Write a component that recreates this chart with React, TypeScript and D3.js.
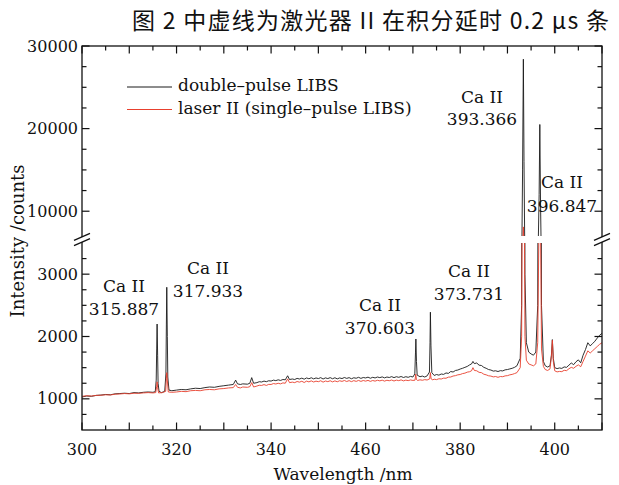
import React, { useEffect, useRef } from 'react';
import * as d3 from 'd3';

// double-pulse LIBS (black): [wavelength nm, counts]
const doublePulse: [number, number][] = [
  [300, 1030], [301, 1045], [302, 1040], [303, 1055], [304, 1060], [305, 1070], [306, 1065], [307, 1080],
  [308, 1085], [309, 1090], [310, 1085], [311, 1100], [312, 1095], [313, 1105], [314, 1110], [315, 1105],
  [315.5, 1115], [315.7, 1300], [315.8, 1800], [315.887, 2200], [316.0, 1700], [316.1, 1250], [316.3, 1120],
  [316.8, 1100], [317.5, 1120], [317.75, 1400], [317.85, 2200], [317.933, 2790], [318.05, 2000], [318.15, 1350],
  [318.4, 1140], [319, 1130], [320, 1140], [321, 1150], [322, 1145], [323, 1160], [324, 1170], [325, 1165],
  [326, 1180], [327, 1190], [328, 1185], [329, 1200], [330, 1210], [331, 1220], [332, 1230], [332.5, 1300],
  [332.9, 1240], [333.5, 1230], [334, 1240], [335, 1235], [335.5, 1250], [335.9, 1340], [336.3, 1250],
  [337, 1260], [337.5, 1275], [338, 1270], [338.5, 1285], [339, 1275], [339.5, 1290], [340, 1285], [340.5, 1300],
  [341, 1292], [341.5, 1305], [342, 1295], [342.5, 1310], [343, 1305], [343.5, 1370], [343.9, 1310], [344.5, 1318],
  [345, 1310], [345.5, 1328], [346, 1318], [346.5, 1332], [347, 1315], [347.5, 1335], [348, 1322], [348.5, 1338],
  [349, 1320], [349.5, 1335], [350, 1325], [350.5, 1340], [351, 1318], [351.5, 1336], [352, 1325], [352.5, 1340],
  [353, 1322], [353.5, 1338], [354, 1320], [354.5, 1335], [355, 1325], [355.5, 1342], [356, 1328], [356.5, 1340],
  [357, 1322], [357.5, 1338], [358, 1330], [358.5, 1345], [359, 1328], [359.5, 1342], [360, 1335], [360.5, 1348],
  [361, 1330], [361.5, 1345], [362, 1335], [362.5, 1350], [363, 1340], [363.5, 1352], [364, 1336], [364.5, 1350],
  [365, 1342], [365.5, 1356], [366, 1340], [366.5, 1355], [367, 1345], [367.5, 1358], [368, 1342], [368.5, 1355],
  [369, 1345], [369.5, 1360], [370, 1350], [370.4, 1400], [370.55, 1750], [370.63, 1960], [370.75, 1600],
  [370.9, 1380], [371.5, 1355], [372, 1365], [372.5, 1350], [373, 1368], [373.5, 1430], [373.62, 1900],
  [373.7, 2390], [373.82, 1850], [374, 1420], [374.5, 1375], [375, 1390], [375.5, 1380], [376, 1398],
  [376.5, 1392], [377, 1415], [377.5, 1408], [378, 1438], [378.5, 1430], [379, 1455], [379.5, 1462], [380, 1478],
  [380.5, 1490], [381, 1505], [381.5, 1520], [382, 1545], [382.4, 1560], [382.7, 1600], [383, 1565], [383.5, 1575],
  [384, 1540], [384.5, 1535], [385, 1505], [385.5, 1490], [386, 1470], [386.5, 1462], [387, 1445], [387.5, 1450],
  [388, 1438], [388.5, 1452], [389, 1448], [389.5, 1465], [390, 1470], [390.5, 1480], [391, 1490], [391.5, 1505],
  [392, 1530], [392.7, 1650], [393.0, 2500], [393.2, 15000], [393.366, 28400], [393.5, 16000], [393.7, 3000],
  [394, 1900], [394.5, 1750], [395, 1720], [395.5, 1700], [396.0, 1750], [396.4, 2500], [396.7, 12000],
  [396.847, 20500], [397.0, 11000], [397.2, 2500], [397.6, 1600], [398, 1530], [398.5, 1510], [399, 1530],
  [399.3, 1700], [399.5, 1950], [399.7, 1650], [400, 1500], [400.5, 1485], [401, 1495], [401.5, 1488],
  [402, 1512], [402.5, 1505], [403, 1540], [403.5, 1575], [404, 1548], [404.5, 1595], [405, 1625], [405.5, 1578],
  [406, 1700], [406.5, 1790], [407, 1900], [407.5, 1850], [408, 1885], [408.5, 1925], [409, 1975], [409.5, 2020],
  [410, 2050],
];

// laser II, single-pulse LIBS (red)
const singlePulse: [number, number][] = [
  [300, 1040], [301, 1050], [302, 1045], [303, 1055], [304, 1058], [305, 1065], [306, 1062], [307, 1075],
  [308, 1078], [309, 1085], [310, 1080], [311, 1090], [312, 1088], [313, 1095], [314, 1100], [315, 1095],
  [315.6, 1100], [315.8, 1200], [315.887, 1272], [316.0, 1180], [316.2, 1095], [317, 1100], [317.7, 1120],
  [317.85, 1330], [317.933, 1420], [318.05, 1300], [318.25, 1110], [319, 1105], [320, 1110], [321, 1120],
  [322, 1115], [323, 1130], [324, 1135], [325, 1130], [326, 1145], [327, 1150], [328, 1145], [329, 1160],
  [330, 1165], [331, 1175], [332, 1180], [332.5, 1230], [332.9, 1185], [333.5, 1175], [334, 1190], [335, 1185],
  [335.5, 1195], [335.9, 1260], [336.3, 1190], [337, 1205], [337.5, 1218], [338, 1215], [338.5, 1228],
  [339, 1215], [339.5, 1232], [340, 1230], [340.5, 1245], [341, 1238], [341.5, 1250], [342, 1240], [342.5, 1256],
  [343, 1250], [343.5, 1320], [343.9, 1260], [344.5, 1268], [345, 1260], [345.5, 1278], [346, 1268], [346.5, 1282],
  [347, 1262], [347.5, 1284], [348, 1272], [348.5, 1288], [349, 1270], [349.5, 1284], [350, 1275], [350.5, 1290],
  [351, 1268], [351.5, 1286], [352, 1276], [352.5, 1290], [353, 1272], [353.5, 1288], [354, 1274], [354.5, 1290],
  [355, 1280], [355.5, 1294], [356, 1278], [356.5, 1292], [357, 1276], [357.5, 1292], [358, 1280], [358.5, 1295],
  [359, 1280], [359.5, 1294], [360, 1284], [360.5, 1296], [361, 1280], [361.5, 1294], [362, 1284], [362.5, 1298],
  [363, 1288], [363.5, 1300], [364, 1284], [364.5, 1298], [365, 1290], [365.5, 1302], [366, 1286], [366.5, 1300],
  [367, 1292], [367.5, 1304], [368, 1288], [368.5, 1300], [369, 1292], [369.5, 1303], [370, 1295], [370.45, 1300],
  [370.6, 1396], [370.75, 1310], [371, 1295], [371.5, 1305], [372, 1298], [372.5, 1308], [373, 1302],
  [373.55, 1320], [373.7, 1420], [373.85, 1320], [374.2, 1305], [374.5, 1315], [375, 1308], [375.5, 1322],
  [376, 1318], [376.5, 1332], [377, 1330], [377.5, 1348], [378, 1350], [378.5, 1366], [379, 1372], [379.5, 1385],
  [380, 1390], [380.5, 1405], [381, 1412], [381.5, 1428], [382, 1435], [382.4, 1450], [382.7, 1500], [383, 1455],
  [383.5, 1450], [384, 1425], [384.5, 1420], [385, 1395], [385.5, 1385], [386, 1370], [386.5, 1365], [387, 1352],
  [387.5, 1358], [388, 1345], [388.5, 1358], [389, 1355], [389.5, 1368], [390, 1372], [390.5, 1385], [391, 1392],
  [391.5, 1405], [392, 1420], [392.7, 1500], [393.0, 2000], [393.2, 5500], [393.366, 8100], [393.5, 5200],
  [393.7, 2000], [394, 1620], [394.5, 1560], [395, 1545], [395.5, 1530], [396.0, 1560], [396.4, 1900],
  [396.7, 4000], [396.847, 5500], [397.0, 3800], [397.2, 1800], [397.6, 1520], [398, 1470], [398.5, 1455],
  [399, 1480], [399.3, 1680], [399.5, 1940], [399.7, 1600], [400, 1450], [400.5, 1432], [401, 1440],
  [401.5, 1436], [402, 1458], [402.5, 1452], [403, 1482], [403.5, 1505], [404, 1490], [404.5, 1522],
  [405, 1545], [405.5, 1515], [406, 1600], [406.5, 1685], [407, 1770], [407.5, 1735], [408, 1770], [408.5, 1805],
  [409, 1840], [409.5, 1875], [410, 1900],
];

const xTickLabels = ['300', '320', '340', '460', '380', '400'];
const xTickValues = [300, 320, 340, 360, 380, 400];
const upperTicks = [10000, 20000, 30000];
const lowerTicks = [1000, 2000, 3000];

const legendLabels = ['double\u2013pulse LIBS', 'laser II (single\u2013pulse LIBS)'];

const peakNames = ['Ca II', 'Ca II', 'Ca II', 'Ca II', 'Ca II', 'Ca II'];
const peakLabels = ['315.887', '317.933', '370.603', '373.731', '393.366', '396.847'];

const titleText = '图 2 中虚线为激光器 II 在积分延时 0.2 μs 条';

const App: React.FC = () => {
  const svgRef = useRef<SVGSVGElement>(null);

  useEffect(() => {
    if (!svgRef.current) return;
    document.body.style.margin = '0';
    const svg = d3.select(svgRef.current);
    svg.selectAll('*').remove();

    const left = 82, right = 602, top = 46, bottom = 430;
    const upperBottom = 236, lowerTop = 243;
    const breakY = 239.5;
    const serif = "'DejaVu Serif', serif";

    const x = d3.scaleLinear().domain([300, 410]).range([left, right]);
    const yUp = d3.scaleLinear().domain([7000, 30000]).range([upperBottom, top]);
    const yLow = d3.scaleLinear().domain([500, 3500]).range([bottom, lowerTop]);

    svg.append('rect').attr('width', 619).attr('height', 485).attr('fill', '#fff');

    // title fragment (cut line of the paper)
    svg.append('text')
      .attr('x', 132).attr('y', 29)
      .attr('textLength', 477).attr('lengthAdjust', 'spacing')
      .style('font-family', "'Noto Sans CJK SC', sans-serif")
      .style('font-size', '23px')
      .style('fill', '#111')
      .text(titleText);

    const defs = svg.append('defs');
    defs.append('clipPath').attr('id', 'clip-up')
      .append('rect').attr('x', left).attr('y', top).attr('width', right - left).attr('height', upperBottom - top);
    defs.append('clipPath').attr('id', 'clip-low')
      .append('rect').attr('x', left).attr('y', lowerTop).attr('width', right - left).attr('height', bottom - lowerTop);

    const series = [
      { data: doublePulse, color: '#1a1a1a', w: 0.9 },
      { data: singlePulse, color: '#e8402e', w: 0.9 },
    ];

    // draw both series in both segments of the broken axis
    [{ y: yUp, clip: 'clip-up' }, { y: yLow, clip: 'clip-low' }].forEach(seg => {
      const g = svg.append('g').attr('clip-path', `url(#${seg.clip})`);
      series.forEach(s => {
        const line = d3.line<[number, number]>()
          .x(d => x(d[0]))
          .y(d => seg.y(d[1]));
        g.append('path')
          .attr('d', line(s.data) || '')
          .attr('fill', 'none')
          .attr('stroke', s.color)
          .attr('stroke-width', s.w)
          .attr('stroke-linejoin', 'round');
      });
    });

    // frame
    const axisColor = '#111';
    svg.append('rect')
      .attr('x', left).attr('y', top).attr('width', right - left).attr('height', bottom - top)
      .attr('fill', 'none').attr('stroke', axisColor).attr('stroke-width', 1.3);

    const ticks = svg.append('g').attr('stroke', axisColor).attr('stroke-width', 1.2);
    // x ticks (bottom and top, inward)
    d3.range(300, 410.1, 5).forEach(v => {
      const len = v % 10 === 0 ? 7.5 : 4.5;
      ticks.append('line').attr('x1', x(v)).attr('x2', x(v)).attr('y1', bottom).attr('y2', bottom - len);
      ticks.append('line').attr('x1', x(v)).attr('x2', x(v)).attr('y1', top).attr('y2', top + len);
    });
    // y ticks upper: every 2500
    d3.range(10000, 30001, 2500).forEach(v => {
      const len = v % 10000 === 0 ? 7.5 : 4.5;
      ticks.append('line').attr('x1', left).attr('x2', left + len).attr('y1', yUp(v)).attr('y2', yUp(v));
      ticks.append('line').attr('x1', right).attr('x2', right - len).attr('y1', yUp(v)).attr('y2', yUp(v));
    });
    // y ticks lower: every 250
    d3.range(750, 3251, 250).forEach(v => {
      const len = v % 1000 === 0 ? 7.5 : 4.5;
      ticks.append('line').attr('x1', left).attr('x2', left + len).attr('y1', yLow(v)).attr('y2', yLow(v));
      ticks.append('line').attr('x1', right).attr('x2', right - len).attr('y1', yLow(v)).attr('y2', yLow(v));
    });

    // break marks
    [left, right].forEach(bx => {
      svg.append('rect')
        .attr('x', bx - 2).attr('y', breakY - 2.5).attr('width', 4).attr('height', 5).attr('fill', '#fff');
      [-2.6, 2.6].forEach(dy => {
        svg.append('line')
          .attr('x1', bx - 8).attr('y1', breakY + dy + 3.5)
          .attr('x2', bx + 8).attr('y2', breakY + dy - 3.5)
          .attr('stroke', axisColor).attr('stroke-width', 1.3);
      });
    });

    // tick labels
    xTickValues.forEach((v, i) => {
      svg.append('text')
        .attr('x', x(v)).attr('y', 455)
        .attr('text-anchor', 'middle')
        .style('font-family', serif).style('font-size', '16px').style('fill', '#111')
        .text(xTickLabels[i]);
    });
    upperTicks.forEach(v => {
      svg.append('text')
        .attr('x', 78).attr('y', yUp(v) + 5.5)
        .attr('text-anchor', 'end')
        .style('font-family', serif).style('font-size', '16px').style('fill', '#111')
        .text(String(v));
    });
    lowerTicks.forEach(v => {
      svg.append('text')
        .attr('x', 78).attr('y', yLow(v) + 5.5)
        .attr('text-anchor', 'end')
        .style('font-family', serif).style('font-size', '16px').style('fill', '#111')
        .text(String(v));
    });

    // axis titles
    svg.append('text')
      .attr('x', (left + right) / 2 + 1).attr('y', 480)
      .attr('text-anchor', 'middle')
      .style('font-family', serif).style('font-size', '17px').style('fill', '#111')
      .text('Wavelength /nm');
    svg.append('text')
      .attr('transform', 'translate(24,241) rotate(-90)')
      .attr('text-anchor', 'middle')
      .style('font-family', serif).style('font-size', '18px').style('fill', '#111')
      .text('Intensity /counts');

    // legend
    const legendColors = ['#1a1a1a', '#e8402e'];
    legendLabels.forEach((lab, i) => {
      const ly = 87 + i * 22.5;
      svg.append('line')
        .attr('x1', 127).attr('x2', 172).attr('y1', ly).attr('y2', ly)
        .attr('stroke', legendColors[i]).attr('stroke-width', 1);
      svg.append('text')
        .attr('x', 178).attr('y', ly + 4)
        .style('font-family', serif).style('font-size', '17px').style('fill', '#111')
        .text(lab);
    });

    // peak annotations: centre x, baseline of name, baseline of wavelength
    const annoPos = [
      [124, 292, 315],
      [208, 274, 297],
      [380, 311, 334],
      [469, 277, 300],
      [482, 103, 125],
      [562, 188, 212],
    ];
    peakLabels.forEach((lab, i) => {
      const [cx, y1, y2] = annoPos[i];
      const t = svg.append('text')
        .attr('text-anchor', 'middle')
        .style('font-family', serif).style('font-size', '17px').style('fill', '#111');
      t.append('tspan').attr('x', cx).attr('y', y1).text(peakNames[i]);
      t.append('tspan').attr('x', cx).attr('y', y2).text(lab);
    });
  }, []);

  return (
    <div style={{ position: 'absolute', left: 0, top: 0 }}>
      <svg ref={svgRef} width={619} height={485} style={{ display: 'block' }}></svg>
    </div>
  );
};

export default App;
